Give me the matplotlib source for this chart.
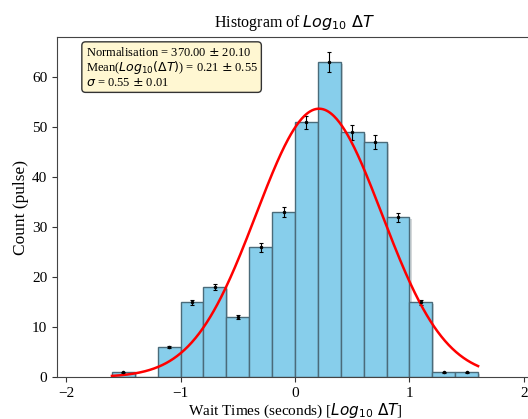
import numpy as np
import matplotlib
matplotlib.use("Agg")
import matplotlib.pyplot as plt
import matplotlib.patheffects as pe

plt.rcParams['font.family'] = ['Liberation Serif', 'DejaVu Serif']
plt.rcParams['mathtext.fontset'] = 'dejavusans'

# histogram of log10 wait times
bin_edges = [-1.6, -1.4, -1.2, -1.0, -0.8, -0.6, -0.4, -0.2, 0.0,
             0.2, 0.4, 0.6, 0.8, 1.0, 1.2, 1.4, 1.6]
counts = [1, 0, 6, 15, 18, 12, 26, 33, 51, 63, 49, 47, 32, 15, 1, 1]
count_err = [0.1, 0.0, 0.2, 0.5, 0.6, 0.4, 0.9, 1.0, 1.3, 2.0, 1.5, 1.4, 0.9, 0.5, 0.1, 0.1]

# gaussian fit parameters
norm = 370.00
norm_err = 20.10
mu = 0.21
mu_err = 0.55
sigma = 0.55
sigma_err = 0.01

edges = np.array(bin_edges)
centres = 0.5 * (edges[:-1] + edges[1:])
width = edges[1] - edges[0]
counts = np.array(counts)
count_err = np.array(count_err)

fig = plt.figure(figsize=(5.28, 4.19), dpi=100)
ax = fig.add_axes([0.108, 0.1, 0.9015, 0.8115])

bars = ax.bar(centres, counts, width=width, color='skyblue',
              edgecolor='#4a6b7a', linewidth=1.0)
for b in bars:
    b.set_path_effects([pe.SimplePatchShadow(offset=(1.5, -1.5), alpha=0.2), pe.Normal()])

# empty bins get no error marker
nz = counts > 0
ax.errorbar(centres[nz], counts[nz], yerr=count_err[nz], fmt='k.', markersize=3,
            capsize=1.5, elinewidth=0.8, capthick=0.8)

xs = np.linspace(edges[0], edges[-1], 400)
gauss = norm * width / (sigma * np.sqrt(2 * np.pi)) * np.exp(-0.5 * ((xs - mu) / sigma) ** 2)
ax.plot(xs, gauss, color='red', lw=1.8)

ax.set_xlim(-2.08, 2.08)
ax.set_ylim(0, 68)
ax.set_xticks([-2, -1, 0, 1, 2])
ax.set_yticks([0, 10, 20, 30, 40, 50, 60])
ax.tick_params(labelsize=11, color='#333333')
for s in ax.spines.values():
    s.set_color('#444444')

ax.set_title(r'Histogram of $Log_{10}\ \Delta T$', fontsize=11.5, pad=7)
ax.set_xlabel(r'Wait Times (seconds) [$Log_{10}\ \Delta T$]', fontsize=11, labelpad=1)
ax.set_ylabel('Count (pulse)', fontsize=12.5, labelpad=2)

info = (f'Normalisation = {norm:.2f} $\\pm$ {norm_err:.2f}\n'
        f'Mean($Log_{{10}}(\\Delta T)$) = {mu:.2f} $\\pm$ {mu_err:.2f}\n'
        f'$\\sigma$ = {sigma:.2f} $\\pm$ {sigma_err:.2f}')
ax.text(0.06, 0.975, info, transform=ax.transAxes, fontsize=9, va='top', ha='left',
        linespacing=1.05,
        bbox=dict(boxstyle='round,pad=0.3', facecolor='#fff7d2', edgecolor='#333333'))

fig.savefig('out.png', dpi=100)
